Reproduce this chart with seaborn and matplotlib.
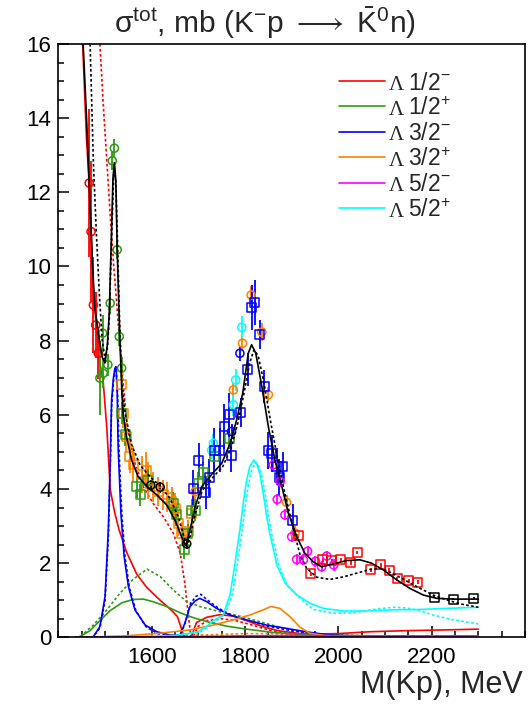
import numpy as np
import pandas as pd
import matplotlib
matplotlib.use('Agg')
import matplotlib.pyplot as plt
from matplotlib.lines import Line2D
from matplotlib.ticker import MultipleLocator, FixedLocator
import seaborn as sns

# ---- fitted partial-wave curves (M in MeV, sigma in mb) ----
# black solid / dotted: total cross section, two fits
tot1_m = [1453, 1460, 1466, 1473, 1478, 1488, 1494, 1500, 1505, 1509, 1514, 1517, 1520, 1523, 1526,
          1531, 1536, 1539, 1546, 1557, 1571, 1589, 1611, 1632, 1650, 1664, 1673, 1682, 1693, 1707,
          1729, 1750, 1768, 1782, 1795, 1807, 1814, 1823, 1836, 1850, 1864, 1879, 1893, 1911, 1928,
          1946, 1964, 1989, 2018, 2046, 2071, 2096, 2125, 2153, 2182, 2211, 2246, 2282, 2300]
tot1_s = [16.0, 14.1, 12.25, 10.1, 8.9, 8.0, 7.55, 7.4, 7.9, 8.74, 11.0, 12.4, 12.8, 12.35, 10.45,
          8.3, 6.6, 6.0, 5.41, 4.78, 4.33, 4.08, 3.84, 3.57, 3.16, 2.71, 2.47, 2.89, 3.52, 4.06,
          4.40, 4.69, 5.23, 5.86, 6.58, 7.66, 7.89, 7.66, 6.76, 5.68, 4.78, 4.06, 3.34, 2.71, 2.27,
          2.04, 1.90, 1.98, 2.07, 2.09, 2.00, 1.82, 1.55, 1.32, 1.14, 1.05, 1.03, 1.03, 1.03]
tot2_m = [1468, 1471, 1475, 1481, 1488, 1494, 1500, 1505, 1509, 1514, 1519, 1523, 1527, 1531, 1536,
          1543, 1557, 1575, 1596, 1618, 1639, 1657, 1669, 1675, 1683, 1694, 1708, 1730, 1752, 1770,
          1785, 1798, 1810, 1819, 1828, 1840, 1855, 1870, 1885, 1900, 1918, 1932, 1954, 1982, 2011,
          2039, 2068, 2093, 2118, 2146, 2175, 2203, 2232, 2261, 2300]
tot2_s = [16.0, 14.6, 12.8, 11.0, 9.2, 8.0, 7.5, 7.8, 8.6, 10.8, 12.6, 12.3, 10.5, 8.6, 6.9,
          6.04, 5.19, 4.65, 4.33, 4.08, 3.75, 3.25, 2.71, 2.49, 2.75, 3.35, 3.95, 4.3, 4.6, 5.1,
          5.8, 6.6, 7.4, 7.75, 7.6, 6.9, 5.8, 4.8, 3.9, 3.1, 2.22, 1.86, 1.62, 1.56, 1.63,
          1.73, 1.83, 1.86, 1.71, 1.52, 1.32, 1.14, 1.01, 0.90, 0.81]

# Lambda 1/2-
s11_m = [1452, 1460, 1467, 1475, 1482, 1489, 1496, 1504, 1511, 1520, 1530, 1546, 1568, 1589, 1618,
         1643, 1655, 1662, 1668, 1678, 1686, 1696, 1718, 1746, 1775, 1803, 1835, 1870, 1918, 1960,
         2000, 2068, 2150, 2230, 2300]
s11_s = [16.0, 13.5, 12.0, 9.3, 8.3, 7.4, 6.9, 5.6, 4.0, 3.4, 2.9, 2.3, 1.7, 1.35, 1.0,
         0.72, 0.56, 0.3, 0.05, 0.0, 0.05, 0.4, 0.54, 0.61, 0.57, 0.45, 0.3, 0.18, 0.1, 0.09,
         0.1, 0.15, 0.18, 0.2, 0.22]
s11b_m = [1489, 1496, 1504, 1511, 1518, 1525, 1532, 1540, 1548, 1564, 1582, 1603, 1625, 1646, 1661,
          1671, 1678, 1684, 1690, 1700, 1720, 1750, 1780, 1810, 1850, 1900, 1950, 2000, 2100, 2200, 2300]
s11b_s = [16.0, 14.4, 12.8, 11.4, 10.1, 9.0, 7.84, 6.7, 5.6, 4.69, 4.06, 3.61, 3.25, 2.81, 2.27,
          1.46, 0.65, 0.0, 0.05, 0.3, 0.45, 0.5, 0.45, 0.35, 0.2, 0.08, 0.04, 0.03, 0.02, 0.02, 0.02]

# Lambda 1/2+
p11_m = [1437, 1446, 1468, 1489, 1511, 1536, 1560, 1582, 1603, 1632, 1661, 1689, 1725, 1761, 1803,
         1861, 1918, 2000, 2100, 2200, 2300]
p11_s = [0, 0.02, 0.18, 0.45, 0.72, 0.93, 1.02, 1.03, 0.96, 0.83, 0.66, 0.53, 0.40, 0.30, 0.22,
         0.13, 0.08, 0.05, 0.03, 0.02, 0.02]
p11b_m = [1437, 1447, 1475, 1504, 1532, 1560, 1590, 1618, 1646, 1675, 1703, 1746, 1789, 1832, 1875,
          1918, 1960, 2000, 2100, 2200, 2300]
p11b_s = [0, 0.02, 0.33, 0.74, 1.19, 1.56, 1.84, 1.64, 1.28, 0.96, 0.83, 0.69, 0.57, 0.42, 0.27,
          0.15, 0.09, 0.06, 0.03, 0.02, 0.02]

# Lambda 3/2-
d13_m = [1470, 1475, 1489, 1500, 1507, 1511, 1514, 1518, 1521, 1523.5, 1526, 1528, 1534, 1541, 1550,
         1564, 1586, 1611, 1639, 1661, 1671, 1682, 1693, 1703, 1718, 1739, 1768, 1803, 1846, 1889,
         1930, 1970, 2000, 2100, 2200, 2300]
d13_s = [0, 0.02, 0.29, 1.10, 2.89, 4.69, 6.40, 7.0, 7.25, 7.3, 6.6, 5.14, 3.34, 2.17, 1.37,
         0.74, 0.33, 0.15, 0.06, 0.06, 0.38, 0.83, 0.98, 1.05, 0.96, 0.78, 0.60, 0.47, 0.33, 0.24,
         0.15, 0.08, 0.05, 0.03, 0.02, 0.02]
d13b_m = [1470, 1475, 1489, 1500, 1507, 1511, 1514, 1518, 1521, 1524, 1527, 1530, 1536, 1543, 1552,
          1566, 1588, 1613, 1641, 1661, 1672, 1683, 1694, 1705, 1720, 1741, 1770, 1805, 1848, 1890,
          1930, 1970, 2000, 2100, 2200, 2300]
d13b_s = [0, 0.02, 0.25, 1.0, 2.7, 4.5, 6.2, 6.9, 7.2, 7.25, 6.5, 5.0, 3.3, 2.15, 1.35,
          0.72, 0.28, 0.1, 0.03, 0.05, 0.4, 0.9, 1.1, 1.16, 1.0, 0.8, 0.6, 0.45, 0.3, 0.2,
          0.12, 0.07, 0.04, 0.02, 0.02, 0.02]

# Lambda 3/2+
p13_m = [1437, 1500, 1546, 1618, 1682, 1732, 1775, 1810, 1839, 1855, 1875, 1896, 1918, 1939, 1970,
         2000, 2100, 2200, 2300]
p13_s = [0, 0.02, 0.04, 0.11, 0.20, 0.33, 0.47, 0.60, 0.74, 0.83, 0.78, 0.56, 0.27, 0.11, 0.05,
         0.04, 0.03, 0.02, 0.02]
p13b_m = [1437, 1600, 1700, 1800, 1850, 1900, 2000, 2100, 2300]
p13b_s = [0, 0.02, 0.06, 0.1, 0.1, 0.07, 0.04, 0.03, 0.02]

# Lambda 5/2-
d15_m = [1437, 1600, 1700, 1800, 1900, 2000, 2150, 2300]
d15_s = [0, 0.01, 0.02, 0.04, 0.05, 0.04, 0.03, 0.03]
d15b_m = [1437, 1600, 1700, 1800, 1900, 2000, 2150, 2300]
d15b_s = [0, 0.01, 0.02, 0.03, 0.04, 0.03, 0.02, 0.02]

# Lambda 5/2+
f15_m = [1437, 1550, 1650, 1700, 1718, 1732, 1746, 1753, 1768, 1775, 1782, 1789, 1796, 1803, 1810,
         1819, 1826, 1832, 1840, 1846, 1853, 1864, 1868, 1886, 1911, 1939, 1968, 2011, 2061, 2118,
         2175, 2232, 2300]
f15_s = [0, 0.01, 0.05, 0.15, 0.3, 0.45, 0.55, 0.6, 1.15, 1.7, 2.3, 2.9, 3.6, 4.2, 4.6,
         4.78, 4.65, 4.4, 3.8, 3.3, 2.8, 2.2, 1.95, 1.46, 1.14, 0.92, 0.78, 0.71, 0.71, 0.74,
         0.75, 0.78, 0.81]
f15b_m = [1437, 1550, 1650, 1700, 1722, 1736, 1750, 1758, 1772, 1779, 1786, 1793, 1800, 1807, 1814,
          1823, 1830, 1836, 1844, 1850, 1857, 1868, 1872, 1890, 1918, 1946, 1989, 2032, 2075, 2118,
          2146, 2175, 2203, 2239, 2300]
f15b_s = [0, 0.01, 0.04, 0.12, 0.28, 0.42, 0.56, 0.66, 1.1, 1.6, 2.2, 2.8, 3.5, 4.1, 4.5,
          4.72, 4.6, 4.35, 3.8, 3.3, 2.8, 2.2, 1.95, 1.4, 1.05, 0.75, 0.65, 0.66, 0.75, 0.81,
          0.79, 0.72, 0.60, 0.49, 0.36]

# ---- measured points ----
red_o_m = [1466, 1470, 1475, 1480, 1485.5]
red_o_s = [12.25, 10.94, 8.96, 8.42, 7.66]
red_o_e = [2.0, 1.9, 1.3, 0.9, 0.7]

grn_o_m = [1489, 1495, 1496, 1506, 1511, 1515.5, 1520, 1526, 1530.5, 1535.6]
grn_o_s = [6.99, 8.2, 7.12, 7.35, 9.01, 12.85, 13.19, 10.45, 8.11, 7.26]
grn_o_e = [1.0, 0.5, 0.4, 0.3, 0.3, 0.25, 0.25, 0.25, 0.25, 0.3]

org_s_m = [1535.6, 1539, 1545, 1553, 1560.5, 1578.5, 1588, 1593, 1603, 1614, 1625, 1633, 1643, 1650,
           1657, 1664, 1678, 1686]
org_s_s = [6.81, 6.04, 5.41, 4.87, 4.65, 4.38, 4.51, 4.24, 4.06, 3.93, 3.84, 3.78, 3.66, 3.48,
           3.08, 2.81, 2.85, 3.34]
org_s_e = [0.35, 0.4, 0.4, 0.45, 0.5, 0.5, 0.5, 0.5, 0.4, 0.4, 0.4, 0.4, 0.4, 0.4,
           0.35, 0.3, 0.3, 0.3]

grn_s_m = [1536, 1543, 1568, 1575, 1591, 1646, 1653, 1670, 1677, 1686, 1693, 1700, 1710, 1734, 1766]
grn_s_s = [6.04, 5.46, 4.06, 3.84, 4.24, 3.61, 3.30, 2.37, 2.81, 3.43, 3.43, 4.15, 4.44, 4.87, 5.37]
grn_s_e = [0.3, 0.3, 0.3, 0.3, 0.3, 0.3, 0.3, 0.25, 0.25, 0.3, 0.3, 0.3, 0.3, 0.3, 0.3]

blk_o_m = [1598, 1618, 1675]
blk_o_s = [4.1, 4.05, 2.52]
blk_o_e = [0.15, 0.15, 0.15]

blu_s_m = [1689, 1701, 1716, 1723, 1734, 1746, 1755, 1766, 1770, 1791, 1806, 1814, 1821, 1831, 1841,
           1850, 1857, 1868, 1873, 1881, 1902]
blu_s_s = [4.02, 4.78, 3.90, 4.32, 5.05, 5.05, 5.68, 6.00, 4.90, 6.06, 7.23, 8.89, 9.03, 8.17, 6.76,
           5.03, 4.96, 4.60, 4.32, 4.60, 3.15]
blu_s_e = [0.5, 0.45, 0.45, 0.5, 0.6, 0.6, 0.6, 0.6, 0.45, 0.4, 0.45, 0.6, 0.6, 0.4, 0.45,
           0.5, 0.5, 0.5, 0.5, 0.4, 0.45]

org_o_m = [1693, 1775, 1794.5, 1813, 1836, 1850, 1889, 1907]
org_o_s = [3.93, 6.67, 7.93, 9.23, 8.23, 6.54, 3.64, 2.81]
org_o_e = [0.2, 0.2, 0.2, 0.25, 0.25, 0.2, 0.2, 0.2]

cyn_o_m = [1728.5, 1732, 1775, 1780, 1793]
cyn_o_s = [5.05, 5.23, 6.27, 6.94, 8.36]
cyn_o_e = [0.25, 0.25, 0.3, 0.3, 0.3]

blu_o_m = [1771, 1789]
blu_o_s = [5.55, 7.66]
blu_o_e = [0.2, 0.2]

mag_o_m = [1860.5, 1869, 1875, 1885.5, 1900, 1910.6, 1925, 1934, 1951, 1964, 1975, 1990]
mag_o_s = [4.65, 3.72, 4.20, 3.30, 2.71, 2.10, 2.09, 2.32, 2.05, 1.90, 2.19, 1.95]
mag_o_e = [0.15] * 12

red_s_m = [1914, 1940.6, 1966.3, 1985.6, 2005.5, 2026.3, 2040.5, 2069.8, 2090.6, 2109, 2126.2,
           2150.6, 2169.9]
red_s_s = [2.74, 1.71, 2.09, 2.06, 2.09, 2.01, 2.29, 1.82, 1.95, 1.81, 1.58, 1.52, 1.49]
red_s_e = [0.05] * 13

blk_s_m = [2205.5, 2246, 2290.5]
blk_s_s = [1.08, 1.03, 1.05]
blk_s_e = [0.03, 0.03, 0.03]

legend_labels = ['1/2$^{-}$', '1/2$^{+}$', '3/2$^{-}$', '3/2$^{+}$', '5/2$^{-}$', '5/2$^{+}$']

RED, GRN, BLU, ORG, MAG, CYN = '#ff0000', '#2f9a12', '#0000ff', '#ff8000', '#ff00ff', '#00ffff'
legend_colors = [RED, GRN, BLU, ORG, MAG, CYN]

sns.set_theme(style='white')
plt.rcParams['font.family'] = ['Liberation Sans', 'DejaVu Sans']
plt.rcParams['mathtext.fontset'] = 'custom'
plt.rcParams['mathtext.rm'] = 'Liberation Sans'
plt.rcParams['mathtext.it'] = 'Liberation Sans:italic'
plt.rcParams['mathtext.bf'] = 'Liberation Sans:bold'
plt.rcParams['mathtext.fallback'] = 'stixsans'

W, H = 532, 709
fig = plt.figure(figsize=(W / 100, H / 100), dpi=100)
ax = fig.add_axes([58.4 / W, 1 - 637.3 / H, (525 - 58.4) / W, (637.3 - 44) / H])

LW = 1.2
DOT = (0, (1.6, 1.4))

# partial waves first (dotted = second fit, solid = first fit)
curves = [
    (s11b_m, s11b_s, RED, DOT), (p11b_m, p11b_s, GRN, DOT), (d13b_m, d13b_s, BLU, DOT),
    (p13b_m, p13b_s, ORG, DOT), (d15b_m, d15b_s, MAG, DOT), (f15b_m, f15b_s, CYN, DOT),
    (s11_m, s11_s, RED, '-'), (p11_m, p11_s, GRN, '-'), (d13_m, d13_s, BLU, '-'),
    (p13_m, p13_s, ORG, '-'), (f15_m, f15_s, CYN, '-'), (d15_m, d15_s, MAG, '-'),
]
for m, s, c, ls in curves:
    sns.lineplot(x=m, y=s, color=c, linestyle=ls, lw=LW, sort=False, estimator=None, ax=ax)

# data points with error bars
points = [
    (red_o_m, red_o_s, red_o_e, RED, 'o'), (grn_o_m, grn_o_s, grn_o_e, GRN, 'o'),
    (org_s_m, org_s_s, org_s_e, ORG, 's'), (grn_s_m, grn_s_s, grn_s_e, GRN, 's'),
    (blk_o_m, blk_o_s, blk_o_e, 'black', 'o'), (org_o_m, org_o_s, org_o_e, ORG, 'o'),
    (cyn_o_m, cyn_o_s, cyn_o_e, CYN, 'o'), (blu_o_m, blu_o_s, blu_o_e, BLU, 'o'),
    (blu_s_m, blu_s_s, blu_s_e, BLU, 's'), (mag_o_m, mag_o_s, mag_o_e, MAG, 'o'),
    (red_s_m, red_s_s, red_s_e, RED, 's'), (blk_s_m, blk_s_s, blk_s_e, 'black', 's'),
]
for m, s, e, c, mk in points:
    ax.errorbar(m, s, yerr=e, fmt='none', ecolor=c, elinewidth=1.3, capsize=0, zorder=3)
    sns.scatterplot(x=m, y=s, marker=mk, s=34 if mk == 'o' else 42, color=c,
                    facecolor='none', edgecolor=c, linewidth=1.1, ax=ax, zorder=4)

# total cross section on top
sns.lineplot(x=tot2_m, y=tot2_s, color='black', linestyle=DOT, lw=LW, sort=False,
             estimator=None, ax=ax, zorder=5)
sns.lineplot(x=tot1_m, y=tot1_s, color='black', linestyle='-', lw=LW, sort=False,
             estimator=None, ax=ax, zorder=5)

ax.set_xlim(1400, 2400)
ax.set_ylim(0, 16)
ax.xaxis.set_major_locator(FixedLocator([1600, 1800, 2000, 2200]))
ax.xaxis.set_minor_locator(MultipleLocator(50))
ax.yaxis.set_major_locator(MultipleLocator(2))
ax.yaxis.set_minor_locator(MultipleLocator(0.5))
ax.tick_params(which='both', direction='in', bottom=True, left=True, top=False, right=False,
               colors='black', labelsize=16, width=1.1)
ax.tick_params(axis='x', which='major', length=8, pad=7)
ax.tick_params(axis='y', which='major', length=8, pad=5)
ax.tick_params(which='minor', length=4)
for sp in ax.spines.values():
    sp.set_color('black')
    sp.set_linewidth(1.2)
ax.set_xlabel('')
ax.set_ylabel('')
if ax.get_legend() is not None:
    ax.get_legend().remove()

fig.text(265 / W, 1 - 33 / H,
         r'$\mathrm{\sigma}^{\rm tot}$, mb (K$^{-}$p $\longrightarrow$ $\bar{\rm K}^{0}$n)',
         ha='center', va='baseline', fontsize=21.5)
fig.text(523 / W, 1 - 693 / H, 'M(Kp), MeV', ha='right', va='baseline', fontsize=22)

# legend
for i, (lab, c) in enumerate(zip(legend_labels, legend_colors)):
    yy = 81 + 25.4 * i
    fig.add_artist(Line2D([339 / W, 385 / W], [1 - yy / H] * 2, color=c, lw=LW,
                          transform=fig.transFigure))
    fig.text(389 / W, 1 - (yy + 8.5) / H, 'Λ', family='Liberation Serif', fontsize=15,
             ha='left', va='baseline')
    fig.text(408 / W, 1 - (yy + 8.5) / H, lab, fontsize=16.5, ha='left', va='baseline')

fig.savefig('out.png', dpi=100)
